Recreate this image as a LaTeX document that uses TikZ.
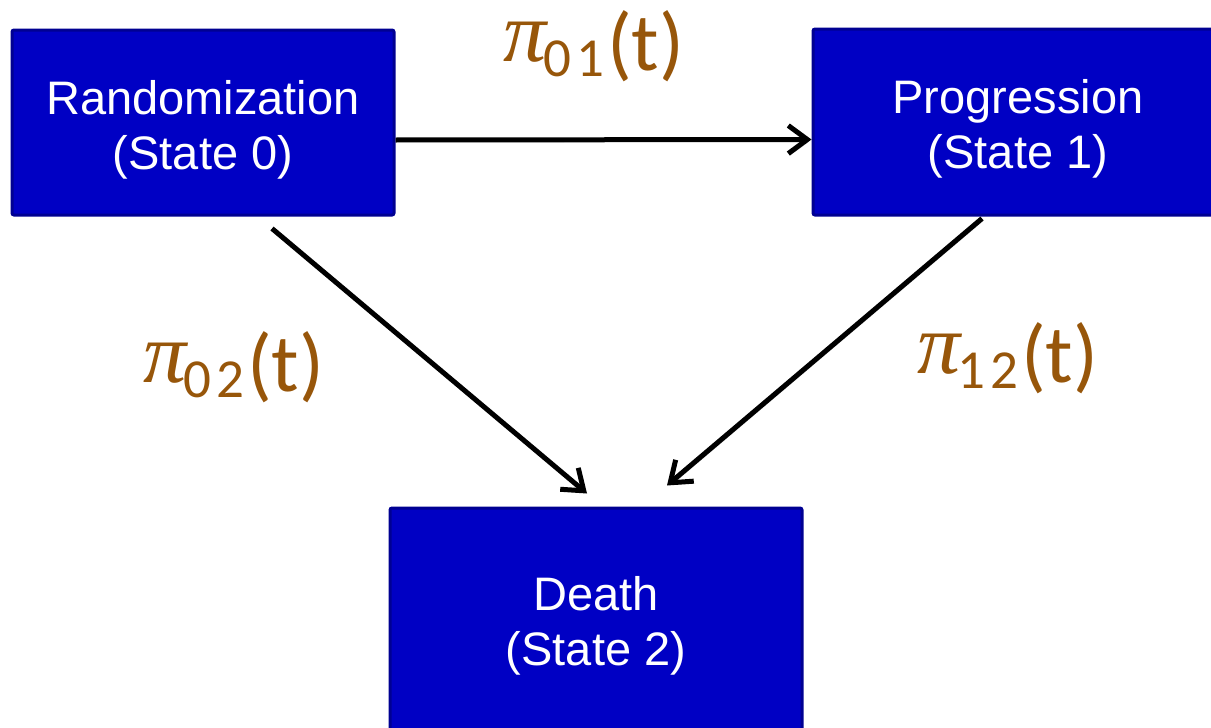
\documentclass[tikz,border=0pt]{standalone}
\usepackage{fontspec}
\setmainfont{Liberation Sans}
\newfontfamily\labfont{Carlito}
\newfontfamily\pifont{Liberation Serif}
\usetikzlibrary{arrows.meta}
\definecolor{boxfill}{HTML}{0000C4}
\definecolor{boxline}{HTML}{000092}
\definecolor{labcol}{HTML}{97560A}
\tikzset{
  statebox/.style={draw=boxline, line width=3pt, fill=boxfill, rounded corners=2pt, inner sep=0pt},
  boxtext/.style={text=white, align=center, font=\fontsize{47}{55}\selectfont, inner sep=0pt},
  rate/.style={text=labcol, font=\labfont\fontsize{82}{84}\selectfont, inner sep=0pt},
  conn/.style={line width=5pt, -{Straight Barb[length=19pt,width=28pt,line width=5pt]},
    preaction={draw=black!22, transform canvas={shift={(1.5pt,-2pt)}}}}
}
\newcommand{\ratelab}[1]{\raisebox{9pt}{\fontsize{86}{86}\selectfont\pifont\itshape π}\raisebox{-6pt}{\fontsize{55}{55}\selectfont\hspace{-3pt}\addfontfeatures{LetterSpace=8}#1\hspace{3pt}}(t)}
\begin{document}
\begin{tikzpicture}[x=1pt,y=-1pt]
\useasboundingbox (0,0) rectangle (1211,728);
\fill[white] (0,0) rectangle (1211,728);
\node[statebox, minimum width=382pt, minimum height=185pt] (A) at (203,122.5) {};
\node[boxtext] (At) at ([yshift=-7pt]A.center) {Randomization\\(State 0)};
\node[statebox, minimum width=410pt, minimum height=186pt] (B) at (1018,122) {};
\node[boxtext] (Bt) at ([yshift=-7pt]B.center) {Progression\\(State 1)};
\node[statebox, minimum width=412pt, minimum height=222pt] (C) at (596,619) {};
\node[boxtext] (Ct) at ([yshift=-7pt]C.center) {Death\\(State 2)};
\draw[conn] ([yshift=-17.5pt]A.east) -- ([yshift=-17.5pt]B.west);
\draw[conn] ([shift={(69pt,-12pt)}]A.south) -- ([shift={(-9pt,13pt)}]C.north);
\draw[conn] ([shift={(-36pt,-2pt)}]B.south) -- ([shift={(71pt,21pt)}]C.north);
\node[rate] (r01) at (594,46) {\ratelab{01}};
\node[rate] (r02) at (234,367) {\ratelab{02}};
\node[rate] (r12) at (1008,358) {\ratelab{12}};
\end{tikzpicture}
\end{document}
